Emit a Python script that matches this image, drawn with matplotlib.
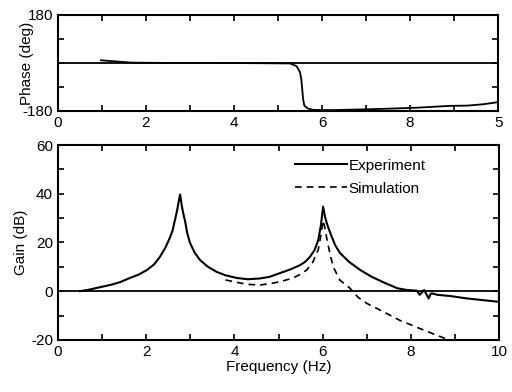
import numpy as np
import matplotlib.pyplot as plt

plt.rcParams['font.family'] = ['Liberation Sans', 'DejaVu Sans']
plt.rcParams['font.size'] = 10

# phase (experiment)
ph_f = [0.98, 1.2, 1.7, 2.5, 3.5, 4.5, 5.27, 5.42, 5.5, 5.53, 5.57, 5.6, 5.68, 5.8, 6.2, 7.0, 7.6, 8.14, 8.9, 9.3, 9.66, 10.0]
ph_d = [10, 7, 1, 0, 0, -1, -2, -12, -35, -62, -136, -161, -171, -176, -177, -174, -171, -168, -161, -160, -155, -147]

# gain, experiment
ex_f = [0.5, 0.7, 0.95, 1.2, 1.41, 1.63, 1.83, 2.02, 2.18, 2.31, 2.44, 2.54, 2.6, 2.65, 2.7, 2.74, 2.77,
        2.8, 2.84, 2.88, 2.93, 2.99, 3.1, 3.22, 3.4, 3.6, 3.8, 4.06, 4.3, 4.58, 4.8, 5.03, 5.25, 5.49,
        5.6, 5.71, 5.82, 5.9, 5.96, 6.01, 6.06, 6.11, 6.17, 6.28, 6.39, 6.6, 6.85, 7.1, 7.37, 7.69, 7.9,
        8.13, 8.2, 8.3, 8.4, 8.45, 8.5, 8.6, 8.89, 9.27, 9.64, 10.0]
ex_g = [0, 0.6, 1.6, 2.6, 3.7, 5.4, 6.8, 8.7, 11, 14, 18, 22, 25, 29, 33, 37, 39.7,
        36, 32, 29, 24, 20, 15.8, 12.8, 10, 7.9, 6.5, 5.4, 4.9, 5.2, 5.9, 7.4, 8.8, 10.7,
        12, 14, 17, 21, 27, 34.7, 30, 27, 24, 19, 15.7, 12, 8.7, 6, 3.7, 1.2, 0.5,
        0.2, -1.5, 0.5, -3, -1, -1, -1.5, -2, -3, -3.7, -4.4]

# gain, simulation
sim_f = [3.8, 4.06, 4.3, 4.58, 4.88, 5.1, 5.33, 5.5, 5.64, 5.78, 5.9, 5.96, 6.01, 6.05, 6.1, 6.17, 6.24,
         6.39, 6.62, 6.8, 7.0, 7.38, 7.75, 8.13, 8.5, 8.8]
sim_g = [4.6, 3.6, 2.8, 2.5, 3.3, 4.2, 5.4, 7, 8.7, 12, 17, 23, 29, 26, 21, 15, 10,
         4.5, 1.2, -2.5, -5, -8.5, -12, -14.8, -17.5, -19.6]

fig = plt.figure(figsize=(5.12, 3.92), dpi=100)
ax1 = fig.add_axes([0.113, 0.717, 0.86, 0.245])
ax2 = fig.add_axes([0.113, 0.133, 0.862, 0.497])

for ax in (ax1, ax2):
    for s in ax.spines.values():
        s.set_linewidth(1.5)
    ax.tick_params(direction='in', top=True, right=True, length=4, width=1.2, labelsize=11)
    ax.set_xlim(0, 10)
    ax.set_xticks(np.arange(0, 11, 1))

ax1.axhline(0, color='k', lw=1.3)
ax1.plot(ph_f, ph_d, color='k', lw=1.3)
ax1.set_ylim(-180, 180)
ax1.set_yticks([-180, -90, 0, 90, 180])
ax1.set_yticklabels(['-180', '', '', '', '180'])
ax1.set_xticklabels(['0', '', '2', '', '4', '', '6', '', '8', '', '5'])
ax1.set_ylabel('Phase (deg)', fontsize=11, labelpad=-8)

ax2.axhline(0, color='k', lw=1.3)
ax2.plot(ex_f, ex_g, color='k', lw=1.5, label='Experiment')
ax2.plot(sim_f, sim_g, color='k', lw=1.2, ls=(0, (4, 3)), label='Simulation')
ax2.set_ylim(-20, 60)
ax2.set_yticks(np.arange(-20, 61, 10))
ax2.set_yticklabels(['-20', '', '0', '', '20', '', '40', '', '60'])
ax2.set_xticklabels(['0', '', '2', '', '4', '', '6', '', '8', '', '10'])
ax2.set_xlabel('Frequency (Hz)', fontsize=11, labelpad=1)
ax2.set_ylabel('Gain (dB)', fontsize=11, labelpad=2)
ax2.legend(loc='upper right', bbox_to_anchor=(0.85, 0.97), frameon=False, fontsize=11,
           handlelength=3.4, handletextpad=0.1, labelspacing=0.6, borderpad=0)

fig.savefig('out.png', dpi=100)
